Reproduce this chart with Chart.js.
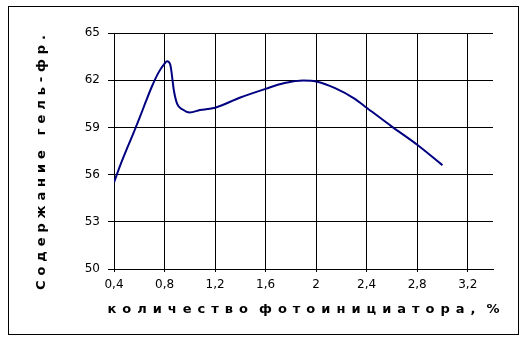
<!DOCTYPE html>
<html lang="ru">
<head>
<meta charset="UTF-8" />
<title>Содержание гель-фракции</title>
<script src="https://cdn.jsdelivr.net/npm/chart.js"></script>
<style>
  body { margin: 0; background: #fff; }
</style>
</head>
<body>
<canvas id="gel-chart" width="527" height="339"></canvas>
<script>
  // количество фотоинициатора, %
  const photoInit = [0.4, 0.45, 0.5, 0.55, 0.6, 0.65, 0.7, 0.75, 0.8, 0.82, 0.845,
    0.875, 0.9, 0.94, 1.0, 1.08, 1.2, 1.4, 1.6, 1.75, 1.9, 2.0, 2.15, 2.3, 2.4, 2.6, 2.8, 3.0];
  // содержание гель-фракции
  const gelContent = [55.5, 56.6, 57.6, 58.55, 59.55, 60.6, 61.6, 62.45, 63.05, 63.2, 63.0,
    61.3, 60.5, 60.15, 59.95, 60.1, 60.25, 60.9, 61.45, 61.82, 61.98, 61.92, 61.5, 60.85, 60.25, 59.05, 57.9, 56.6];

  const xTicks = [0.4, 0.8, 1.2, 1.6, 2, 2.4, 2.8, 3.2];
  const xTickLabels = ['0,4', '0,8', '1,2', '1,6', '2', '2,4', '2,8', '3,2'];
  const yTicks = [50, 53, 56, 59, 62, 65];

  const xTitle = 'количество фотоинициатора, %';
  const yTitle = 'Содержание гель-фр.';

  // текст с разрядкой (как в Excel), по центру cx
  function spacedText(ctx, str, cx, y, gap, wordGap) {
    const chars = [...str];
    const adv = chars.map(ch => ch === ' ' ? wordGap - gap : ctx.measureText(ch).width + gap);
    const total = adv.reduce((a, b) => a + b, 0) - gap;
    let x = cx - total / 2;
    chars.forEach((ch, i) => {
      if (ch !== ' ') ctx.fillText(ch, x, y);
      x += adv[i];
    });
  }

  const framePlugin = {
    id: 'frame',
    beforeDraw(chart) {
      const ctx = chart.ctx;
      ctx.save();
      ctx.fillStyle = '#fff';
      ctx.fillRect(0, 0, chart.width, chart.height);
      ctx.strokeStyle = '#000';
      ctx.lineWidth = 1;
      ctx.strokeRect(8.5, 6.5, 510, 328);
      ctx.restore();
    },
    afterDraw(chart) {
      const ctx = chart.ctx;
      const a = chart.chartArea;
      ctx.save();
      ctx.fillStyle = '#000';
      ctx.font = 'bold 13px "DejaVu Sans"';
      ctx.textAlign = 'left';
      ctx.textBaseline = 'alphabetic';
      spacedText(ctx, xTitle, (a.left + a.right) / 2, 313, 6, 11);
      ctx.translate(45, 162.5);
      ctx.rotate(-Math.PI / 2);
      spacedText(ctx, yTitle, 0, 0, 4.9, 15);
      ctx.restore();
    }
  };

  const tickFont = { family: 'DejaVu Sans', size: 12 };

  new Chart(document.getElementById('gel-chart'), {
    type: 'line',
    data: {
      datasets: [{
        data: photoInit.map((x, i) => ({ x: x, y: gelContent[i] })),
        borderColor: '#000080',
        borderWidth: 2,
        pointRadius: 0,
        fill: false,
        cubicInterpolationMode: 'monotone'
      }]
    },
    options: {
      responsive: false,
      animation: false,
      layout: { padding: { left: 74, top: 33, right: 34, bottom: 40 } },
      plugins: {
        legend: { display: false },
        tooltip: { enabled: false }
      },
      scales: {
        x: {
          type: 'linear',
          min: 0.4,
          max: 3.4,
          afterBuildTicks: s => { s.ticks = xTicks.map(v => ({ value: v })); },
          afterFit: s => { s.height = 30; },
          grid: { color: '#000', lineWidth: 1, tickLength: 3 },
          border: { color: '#000', width: 1 },
          ticks: {
            color: '#000', font: tickFont, padding: 6,
            maxRotation: 0, autoSkip: false,
            callback: (v, i) => xTickLabels[i]
          }
        },
        y: {
          min: 50,
          max: 65,
          afterBuildTicks: s => { s.ticks = yTicks.map(v => ({ value: v })); },
          afterFit: s => { s.width = 40; },
          grid: { color: '#000', lineWidth: 1, tickLength: 6 },
          border: { color: '#000', width: 1 },
          ticks: {
            color: '#000', font: tickFont, padding: 8,
            callback: v => String(v)
          }
        }
      }
    },
    plugins: [framePlugin]
  });
</script>
</body>
</html>
